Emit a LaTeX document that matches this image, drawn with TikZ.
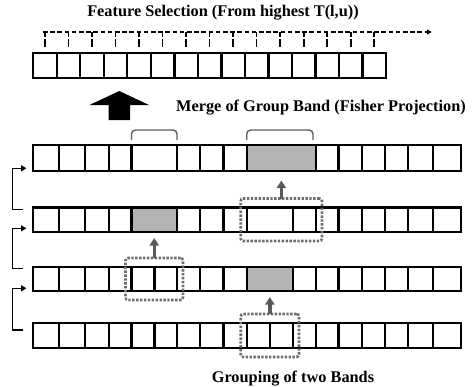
\documentclass[tikz,border=0pt]{standalone}
\usepackage{fontspec}
\setmainfont{Liberation Serif}
\usetikzlibrary{arrows.meta,fit}
\definecolor{bandshade}{HTML}{B3B3B3}
\definecolor{darkg}{HTML}{5A5A5A}
\definecolor{dotg}{HTML}{6E6E6E}
\tikzset{
  cell/.style={draw=black, line width=2.3pt, rectangle, inner sep=0pt, outer sep=0pt},
  lbl/.style={font=\fontsize{16.3}{19}\selectfont\bfseries, inner sep=0pt},
  dotbox/.style={draw=dotg, line width=2.6pt, dash pattern=on 2.4pt off 1.5pt, rounded corners=2.5pt, inner xsep=6pt, inner ysep=9pt, outer sep=0pt},
  garrow/.style={draw=darkg, line width=3.4pt, -{Triangle[length=7.5pt,width=9pt]}},
  dashline/.style={draw=black, line width=1.7pt, dash pattern=on 4.6pt off 2.6pt},
  tickline/.style={draw=black, line width=1.7pt, dash pattern=on 4.5pt off 2.8pt on 8pt off 4pt},
  fbarrow/.style={draw=black, line width=1.3pt, -{Triangle[length=5.5pt,width=6pt]}},
  bracketline/.style={draw=darkg, line width=1.4pt, rounded corners=4pt}
}
\def\D{{33.3,59.3,85,109,131.5,154.5,177,200,223.5,246.7,270,293,316,338.5,361.7,385,408.3,433.3,461}}
\newcommand{\bandrow}[4]{%
  \foreach \a/\b/\f [count=\k] in {#4}{%
    \pgfmathsetmacro\xa{\D[\a]}%
    \pgfmathsetmacro\xb{\D[\b]}%
    \pgfmathsetmacro\cellw{\xb-\xa}%
    \pgfmathsetmacro\xc{(\xa+\xb)/2}%
    \pgfmathsetmacro\yc{(#2+#3)/2}%
    \pgfmathsetmacro\cellh{#3-#2}%
    \node[cell, fill=\f, minimum width=\cellw pt, minimum height=\cellh pt] (#1-\k) at (\xc,\yc) {};
  }}
\begin{document}
\begin{tikzpicture}[x=1pt,y=-1pt]
\useasboundingbox (0,0) rectangle (476,386);
% top selected row
\foreach \k in {1,...,15}{
  \pgfmathsetmacro\xc{33.3+23.51*(\k-0.5)}
  \node[cell, fill=white, minimum width=23.51pt, minimum height=25pt] (top-\k) at (\xc,65.5) {};
}
\node[lbl, anchor=base] (title) at (223,16) {Feature Selection (From highest T(l,u))};
\coordinate (dend) at (431.7,32);
\coordinate (dstart) at (43,32);
\draw[dashline, -{Triangle[length=4.5pt,width=5pt]}] (dstart) -- (dend);
\foreach \k in {1,...,15}{
  \draw[tickline] (top-\k.north |- dend) -- ([yshift=6.5pt]top-\k.north);
}
% big arrow
\fill[black] (89.5,105) -- (119.3,91) -- (149,105) -- (130,105) -- (130,120) -- (108.5,120) -- (108.5,105) -- cycle;
\node[lbl, anchor=base] (merge) at (321,111.5) {Merge of Group Band (Fisher Projection)};
% row 1
\bandrow{r1}{145}{171}{0/1/white,1/2/white,2/3/white,3/4/white,4/6/white,6/7/white,7/8/white,8/9/white,9/12/bandshade,12/13/white,13/14/white,14/15/white,15/16/white,16/17/white,17/18/white}
% row 2
\bandrow{r2}{207.5}{232}{0/1/white,1/2/white,2/3/white,3/4/white,4/6/bandshade,6/7/white,7/8/white,8/9/white,9/11/white,11/12/white,12/13/white,13/14/white,14/15/white,15/16/white,16/17/white,17/18/white}
% row 3
\bandrow{r3}{267}{291}{0/1/white,1/2/white,2/3/white,3/4/white,4/5/white,5/6/white,6/7/white,7/8/white,8/9/white,9/11/bandshade,11/12/white,12/13/white,13/14/white,14/15/white,15/16/white,16/17/white,17/18/white}
% row 4
\bandrow{r4}{323}{348}{0/1/white,1/2/white,2/3/white,3/4/white,4/5/white,5/6/white,6/7/white,7/8/white,8/9/white,9/10/white,10/11/white,11/12/white,12/13/white,13/14/white,14/15/white,15/16/white,16/17/white,17/18/white}
% brackets
\draw[bracketline] ([yshift=5pt]r1-5.north west) |- ([yshift=15pt]r1-5.north) -| ([yshift=5pt]r1-5.north east);
\draw[bracketline] ([yshift=5pt]r1-9.north west) |- ([yshift=15pt]r1-9.north) -| ([xshift=-3pt,yshift=5pt]r1-9.north east);
% grouping boxes
\node[dotbox, fit=(r4-10)(r4-11)] (g4) {};
\node[dotbox, fit=(r3-5)(r3-6)] (g3) {};
\node[dotbox, fit=(r2-9)(r2-10)] (g2) {};
\draw[garrow, shorten >=6pt] (g4.north) -- (r3-10.south);
\draw[garrow, shorten >=6pt] (g3.north) -- (r2-5.south);
\draw[garrow, shorten >=9.5pt] (g2.north) -- (r1-9.south);
\node[lbl, anchor=base] (grp) at (293,382.5) {Grouping of two Bands};
% feedback connectors
\coordinate (s2) at (23.3,209.3);
\coordinate (a1) at (26.5,168.3);
\coordinate (s3) at (23.3,268.3);
\coordinate (a2) at (26.5,228.3);
\coordinate (s4) at (23.3,330);
\coordinate (a3) at (26.5,288.3);
\draw[fbarrow] (s2) -- ++(-11,0) |- (a1);
\draw[fbarrow] (s3) -- ++(-11,0) |- (a2);
\draw[fbarrow] (s4) -- ++(-11,0) |- (a3);
\end{tikzpicture}
\end{document}
